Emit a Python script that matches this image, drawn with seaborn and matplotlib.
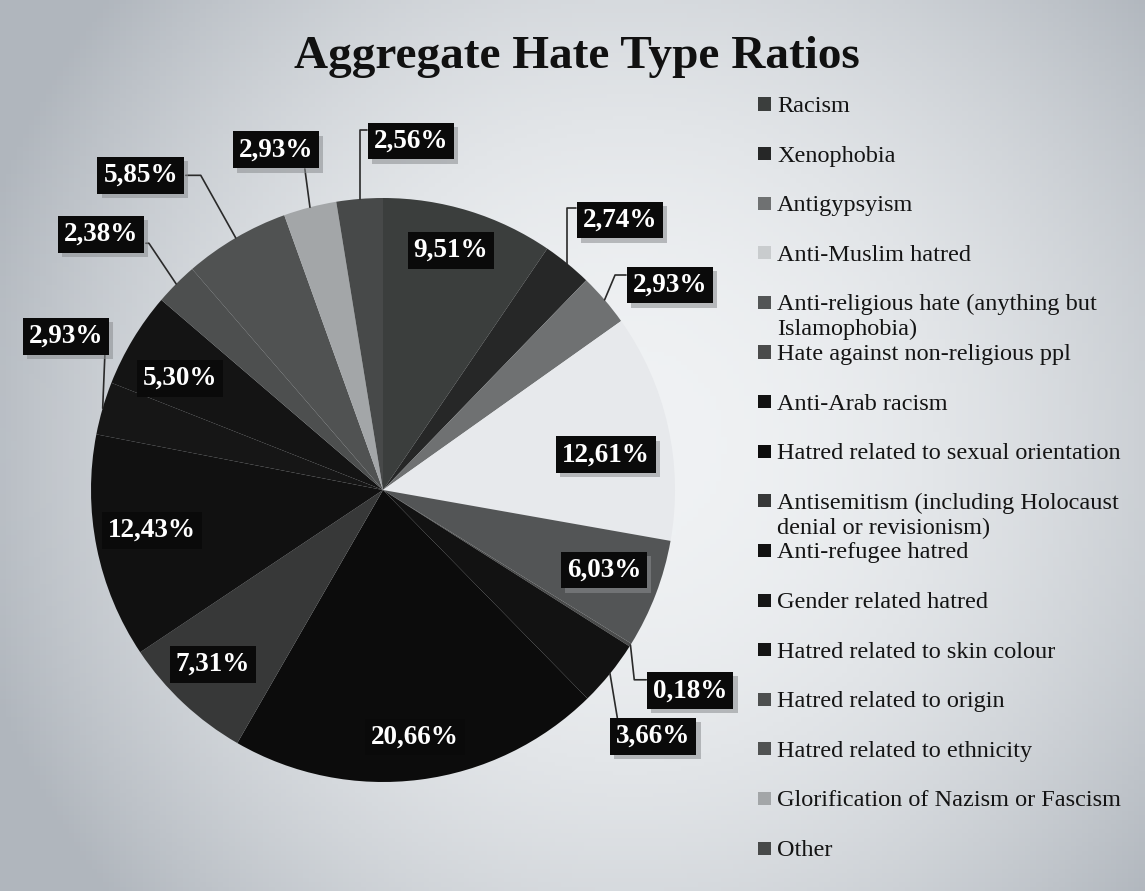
import numpy as np
import matplotlib
matplotlib.use("Agg")
import matplotlib.pyplot as plt
from matplotlib.colors import LinearSegmentedColormap
from matplotlib.patches import Rectangle
import matplotlib.patheffects as pe
import seaborn as sns

# ---------------- data ----------------
categories = [
    "Racism",
    "Xenophobia",
    "Antigypsyism",
    "Anti-Muslim hatred",
    "Anti-religious hate (anything but\nIslamophobia)",
    "Hate against non-religious ppl",
    "Anti-Arab racism",
    "Hatred related to sexual orientation",
    "Antisemitism (including Holocaust\ndenial or revisionism)",
    "Anti-refugee hatred",
    "Gender related hatred",
    "Hatred related to skin colour",
    "Hatred related to origin",
    "Hatred related to ethnicity",
    "Glorification of Nazism or Fascism",
    "Other",
]
shares = [9.51, 2.74, 2.93, 12.61, 6.03, 0.18, 3.66, 20.66,
          7.31, 12.43, 2.93, 5.30, 2.38, 5.85, 2.93, 2.56]
slice_colors = ["#3b3e3d", "#262727", "#6f7172", "#e7e9ec", "#535556",
                "#4a4b4b", "#121212", "#0c0c0c", "#373838", "#111111",
                "#161616", "#141414", "#4d4f4f", "#505252", "#a3a6a8",
                "#474949"]
title = "Aggregate Hate Type Ratios"

# ---------------- layout ----------------
W, H = 1145, 891
PX = 292.0                         # pixels per unit radius
# label placement: radius (pie units) and angular shift (deg) from wedge middle
label_r = [0.854, 1.230, 1.208, 0.773, 0.805, 1.257, 1.253, 0.853,
           0.833, 0.803, 1.207, 0.794, 1.304, 1.360, 1.221, 1.199]
label_dt = [1.3, -2.1, -5.1, -3.7, 1.0, -1.1, -3.4, 0.2,
            -1.2, -1.5, -9.6, 2.2, 2.7, 7.3, 3.0, -9.2]
shadowed = {1, 2, 3, 4, 5, 6, 10, 12, 13, 14, 15}
# leader lines: index -> (anchor dx px, anchor dy px (up), elbow)
leaders = {
    1: (-44, 12, "v"),
    2: (-44, 10, -11),
    5: (-44, 11, -12),
    6: (-36, 19, None),
    10: (39, -19, None),
    12: (45, -9, 3),
    13: (45, 0, 15),
    14: (29, -19, None),
    15: (-44, 11, "v"),
}

sns.set_theme(style="white")
plt.rcParams["font.family"] = ["Liberation Serif", "DejaVu Serif"]

fig = plt.figure(figsize=(W / 100, H / 100), dpi=100)

# background
bg = fig.add_axes([0, 0, 1, 1], zorder=-10)
yy, xx = np.mgrid[0:1:200j, 0:1:200j]
grad = 1.0 - 0.8 * ((xx - 0.55) ** 2 * 1.4 + (yy - 0.5) ** 2 * 0.8)
cmap = LinearSegmentedColormap.from_list("bgc", ["#b0b6bd", "#f0f2f4"])
bg.imshow(np.clip(grad, 0, 1), extent=[0, 1, 0, 1], aspect="auto",
          cmap=cmap, vmin=0.6, vmax=1.0)
bg.axis("off")

# pie axes
cx, cy = 383, 490
half = 1.1 * PX
ax = fig.add_axes([(cx - half) / W, (H - cy - half) / H, 2 * half / W, 2 * half / H])
wedges, _ = ax.pie(shares, colors=slice_colors, startangle=90, counterclock=False,
                   radius=1.0, wedgeprops=dict(linewidth=0))
ax.set_xlim(-1.1, 1.1)
ax.set_ylim(-1.1, 1.1)
ax.set_aspect("equal")
ax.axis("off")

for i, (w, v) in enumerate(zip(wedges, shares)):
    mid = np.deg2rad((w.theta1 + w.theta2) / 2.0)
    ang = mid + np.deg2rad(label_dt[i])
    lx, ly = label_r[i] * np.cos(ang), label_r[i] * np.sin(ang)
    txt = f"{v:.2f}".replace(".", ",") + "%"
    t = ax.text(lx, ly, txt, ha="center", va="center", color="white",
                fontsize=19.5, fontweight="bold", zorder=5, clip_on=False,
                bbox=dict(boxstyle="square,pad=0.22", fc="#0a0a0a", ec="none"))
    if i in shadowed:
        t.get_bbox_patch().set_path_effects(
            [pe.SimplePatchShadow(offset=(3, -3), shadow_rgbFace="#8a8d90", alpha=0.55),
             pe.Normal()])
    if i in leaders:
        adx, ady, elbow = leaders[i]
        p0 = (np.cos(mid), np.sin(mid))
        anc = (lx + adx / PX, ly + ady / PX)
        if elbow == "v":
            pts = [p0, (p0[0], anc[1]), anc]
        elif elbow is None:
            pts = [p0, anc]
        else:
            pts = [p0, (anc[0] + elbow / PX, anc[1]), anc]
        xs, ys = zip(*pts)
        ax.plot(xs, ys, color="#2a2a2a", lw=1.2, zorder=4, clip_on=False)

# title
fig.text(577 / W, 1 - 68 / H, title, ha="center", va="baseline",
         fontsize=34, fontweight="bold", color="#111111")

# legend
for i, cat in enumerate(categories):
    yc = 104 + i * 49.6
    mcol = slice_colors[i] if i != 3 else "#c9ccce"
    fig.add_artist(Rectangle((758 / W, 1 - (yc + 6.5) / H), 13 / W, 13 / H,
                             transform=fig.transFigure, color=mcol, lw=0))
    for k, line in enumerate(cat.split("\n")):
        fig.text(777 / W, 1 - (yc + 8 + 25 * k) / H, line, ha="left",
                 va="baseline", fontsize=17.5, color="#141414")

fig.savefig("out.png", dpi=100)
